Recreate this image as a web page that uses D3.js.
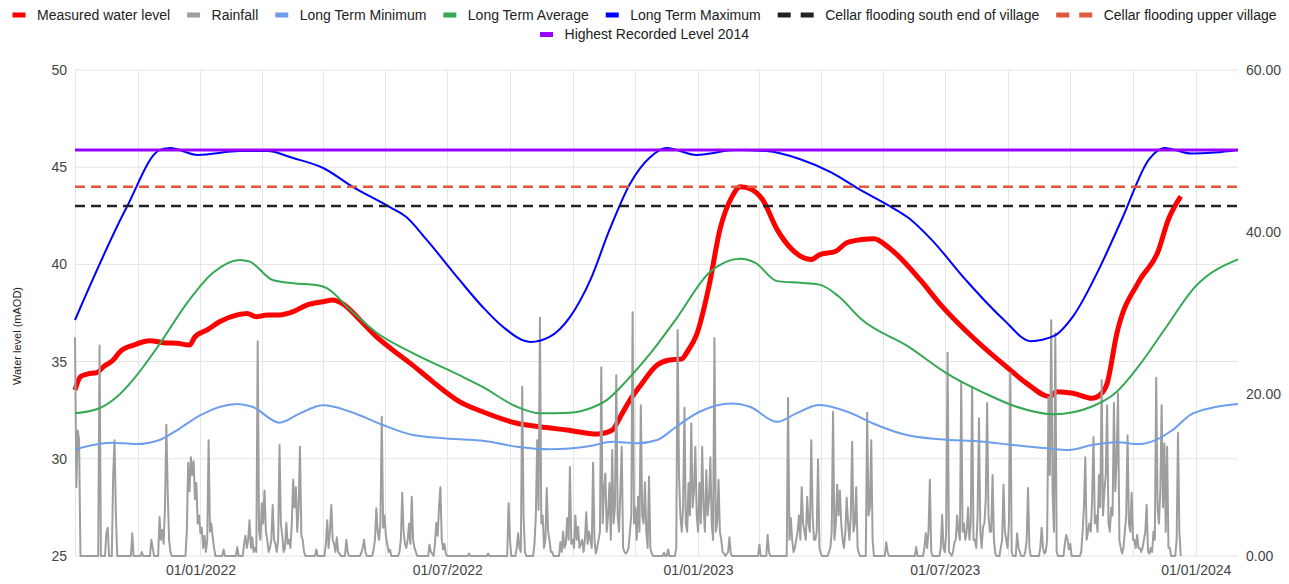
<!DOCTYPE html>
<html>
<head>
<meta charset="utf-8">
<script src="https://cdn.jsdelivr.net/npm/d3@7"></script>
<style>
    body { margin: 0; background: #ffffff; }
    svg { font-family: Arial, 'Liberation Sans', sans-serif; display: block; }
</style>
</head>
<body>
<div id="d3"></div>
<script>
// all series are [days since startDate, value]
const startDate = new Date(2021, 9, 1);
const endDate = new Date(2024, 1, 1);

const levelTicks = [25, 30, 35, 40, 45, 50];
const rainTicks = [0, 20, 40, 60];

const measuredLevel = [
    [0, 33.54], [4, 34.22], [9, 34.36], [16, 34.43], [21, 34.74], [28, 35.08], [33, 35.51], [43, 35.85],
    [55, 36.07], [65, 35.97], [75, 35.94], [84, 35.85], [88, 36.28], [97, 36.63], [106, 37.05], [119, 37.4],
    [126, 37.48], [133, 37.31], [141, 37.4], [150, 37.4], [160, 37.57], [170, 37.91], [182, 38.08], [189, 38.17],
    [197, 37.95], [209, 37.14], [221, 36.28], [233, 35.6], [246, 34.91], [258, 34.22], [270, 33.54], [282, 32.94],
    [299, 32.42], [324, 31.83], [341, 31.65], [361, 31.48], [383, 31.27], [394, 31.48], [400, 32.17], [407, 33.02],
    [414, 33.7], [427, 34.83], [436, 35.08], [445, 35.13], [449, 35.5], [456, 36.4], [465, 38.88], [473, 41.79],
    [482, 43.5], [488, 44.0], [496, 43.87], [504, 43.36], [515, 41.79], [526, 40.76], [540, 40.25], [546, 40.5],
    [558, 40.68], [566, 41.11], [577, 41.28], [586, 41.32], [597, 40.86], [620, 39.2], [634, 38.0], [658, 36.28],
    [683, 34.74], [698, 33.88], [715, 33.19], [720, 33.45], [732, 33.37], [746, 33.11], [752, 33.3], [757, 33.88],
    [764, 36.4], [781, 39.2], [794, 40.6], [802, 42.32], [811, 43.5]
];

const rainfall = [
    [0, 27], [1, 8.5], [2, 15.5], [3, 14.3], [4, 0], [17, 0], [18, 26], [19, 0], [22, 0], [23, 2.8], [24, 3.5], [25, 0],
    [27, 0], [28, 10], [29, 14.3], [30, 5], [31, 0], [41, 0], [42, 2.8], [43, 0], [48, 0], [49, 0.5], [50, 0],
    [55, 0], [56, 2], [57, 1], [58, 0], [61, 0], [62, 4.8], [63, 2], [64, 3.2], [65, 1.5], [66, 6], [67, 16.2],
    [68, 7.8], [69, 2], [70, 0.5], [71, 0], [81, 0], [82, 3], [83, 11.5], [84, 8], [85, 12.2], [86, 10], [87, 11.7],
    [88, 7], [89, 9], [90, 4], [91, 5], [92, 2.8], [93, 3.5], [94, 1], [95, 2.5], [96, 0.5], [97, 2], [98, 14.3],
    [99, 3], [100, 4], [101, 2.3], [102, 1], [103, 0], [108, 0], [109, 0.8], [110, 0], [118, 0], [119, 1.1], [120, 0],
    [123, 0], [124, 1.5], [125, 2.5], [126, 1], [127, 2], [128, 4.4], [129, 1], [130, 2.3], [131, 0.5], [132, 1],
    [133, 0.5], [134, 26.5], [135, 3], [136, 2], [137, 6.5], [138, 4], [139, 8.1], [140, 3], [141, 2], [142, 0.5],
    [143, 1], [144, 2], [145, 6.3], [146, 2], [147, 1.5], [148, 0.5], [149, 2], [150, 13.7], [151, 4], [152, 2.5],
    [153, 0.5], [154, 1], [155, 4.1], [156, 1.5], [157, 2], [158, 1], [159, 4], [160, 9.4], [161, 6], [162, 8.5],
    [163, 3], [164, 6], [165, 13.5], [166, 2.5], [167, 2], [168, 0.5], [169, 0], [176, 0], [177, 0.8], [178, 0],
    [183, 0], [184, 1.5], [185, 4.4], [186, 1], [187, 3], [188, 6.3], [189, 2], [190, 1.5], [191, 0.5], [192, 2.3],
    [193, 0.5], [194, 0.3], [195, 0], [198, 0], [199, 2], [200, 0.5], [201, 0], [209, 0], [210, 0.4], [211, 1],
    [212, 2], [213, 0.5], [214, 0], [218, 0], [219, 0.8], [220, 2], [221, 5.9], [222, 3], [223, 2], [224, 4],
    [225, 17.2], [226, 3.5], [227, 5], [228, 2.5], [229, 1.5], [230, 0.5], [231, 0.8], [232, 0], [237, 0], [238, 0.5],
    [239, 2], [240, 7.8], [241, 3], [242, 1.5], [243, 1], [244, 2], [245, 4], [246, 1.5], [247, 7.3], [248, 2],
    [249, 1], [250, 0.5], [251, 0], [259, 0], [260, 1.4], [261, 0.5], [262, 0.3], [263, 0], [264, 1.5], [265, 4.1],
    [266, 2.5], [267, 6], [268, 8.5], [269, 2], [270, 0.8], [271, 1.5], [272, 0.3], [273, 0], [288, 0], [289, 0.3],
    [290, 0], [302, 0], [303, 0.3], [304, 0], [317, 0], [318, 6.5], [319, 2], [320, 0], [323, 0], [324, 1], [325, 2.8],
    [326, 1], [327, 0.5], [328, 20.9], [329, 5], [330, 0.5], [331, 0], [336, 0], [337, 1.5], [338, 5], [339, 14.3],
    [340, 5.7], [341, 29.4], [342, 4], [343, 5], [344, 1], [345, 2], [346, 8.4], [347, 3], [348, 2], [349, 0.5],
    [350, 0.5], [351, 0], [355, 0], [356, 1.7], [357, 0.5], [358, 3], [359, 1], [360, 1.5], [361, 4.7], [362, 2],
    [363, 11], [364, 1.5], [365, 2], [366, 1], [367, 5], [368, 2], [369, 3.6], [370, 1], [371, 1.5], [372, 2],
    [373, 0.5], [374, 2], [375, 5.4], [376, 1.5], [377, 3], [378, 2], [379, 1], [380, 11.5], [381, 2], [382, 0.3],
    [383, 1], [384, 2], [385, 3], [386, 23.3], [387, 4], [388, 8], [389, 10.2], [390, 3], [391, 5], [392, 9], [393, 2],
    [394, 13.1], [395, 4], [396, 6], [397, 22.3], [398, 5], [399, 3], [400, 8], [401, 13.5], [402, 1], [403, 0.5],
    [404, 0.3], [405, 0.5], [406, 1], [407, 3], [408, 5], [409, 30.1], [410, 4], [411, 6], [412, 2], [413, 7.3],
    [414, 3], [415, 18.6], [416, 5], [417, 4], [418, 9.1], [419, 3], [420, 1], [421, 9.8], [422, 1], [423, 0.3],
    [424, 0], [431, 0], [432, 0.4], [433, 0], [434, 0], [435, 0.8], [436, 0], [440, 0], [441, 1], [442, 27.9],
    [443, 10], [444, 5], [445, 3], [446, 6], [447, 18.3], [448, 4], [449, 3], [450, 9], [451, 5], [452, 16.4],
    [453, 6], [454, 8], [455, 13.5], [456, 5], [457, 3], [458, 9], [459, 4], [460, 13.5], [461, 6], [462, 3],
    [463, 10.6], [464, 5], [465, 7], [466, 12.2], [467, 4], [468, 2], [469, 26.9], [470, 3], [471, 4], [472, 9.4],
    [473, 3], [474, 2], [475, 0.5], [476, 0.3], [477, 0], [479, 0.5], [480, 2.3], [481, 0.3], [482, 0], [501, 0],
    [502, 1.4], [503, 0], [507, 0], [508, 2.6], [509, 0.5], [510, 0], [522, 0], [523, 19.5], [524, 2], [525, 4.7],
    [526, 2], [527, 0.5], [528, 1], [529, 2], [530, 3], [531, 5], [532, 2], [533, 8.5], [534, 4], [535, 3], [536, 2],
    [537, 7.3], [538, 4], [539, 3], [540, 14.3], [541, 5], [542, 2], [543, 2], [544, 3], [545, 11.9], [546, 1],
    [547, 0.3], [548, 0], [552, 0], [553, 0.5], [554, 1], [555, 3], [556, 17.8], [557, 2], [558, 4], [559, 8.8],
    [560, 5], [561, 8.1], [562, 4], [563, 2], [564, 1], [565, 3], [566, 7.2], [567, 4], [568, 2], [569, 5], [570, 14.1],
    [571, 3], [572, 4], [573, 8.5], [574, 1], [575, 0.3], [576, 0], [580, 0], [581, 17.7], [582, 5], [583, 6],
    [584, 14.3], [585, 2], [586, 0], [594, 0], [595, 1.7], [596, 0.5], [597, 0], [616, 0], [617, 1.1], [618, 0],
    [622, 0], [623, 1], [624, 2.8], [625, 1], [626, 3], [627, 9.4], [628, 0.5], [629, 0], [634, 0], [635, 1],
    [636, 5.1], [637, 1], [638, 0.5], [639, 3], [640, 25.1], [641, 0.5], [642, 0.3], [643, 0], [644, 0.5], [645, 1.7],
    [646, 2], [647, 5], [648, 3], [649, 2], [650, 21.4], [651, 3], [652, 4], [653, 2], [654, 3], [655, 6], [656, 2],
    [657, 4], [658, 20.9], [659, 2], [660, 2], [661, 1], [662, 5], [663, 17], [664, 3], [665, 1], [666, 3.6], [667, 4],
    [668, 7], [669, 18.9], [670, 5], [671, 3], [672, 3], [673, 10], [674, 2], [675, 0.3], [676, 0], [678, 0], [679, 1],
    [680, 2], [681, 8.8], [682, 3], [683, 2], [684, 1], [685, 4], [686, 22.6], [687, 0.5], [688, 0], [690, 0],
    [691, 2.8], [692, 1], [693, 0.5], [694, 0], [696, 0], [697, 0.5], [698, 2], [699, 8.4], [700, 1], [701, 0],
    [707, 0], [708, 1], [709, 3.5], [710, 1], [711, 0.3], [712, 0.5], [713, 2], [714, 19.6], [715, 10], [716, 29.1],
    [717, 8], [718, 3], [719, 27.5], [720, 0.5], [721, 0], [725, 0], [726, 1.5], [727, 2.6], [728, 2], [729, 0.8],
    [730, 1.5], [731, 0], [737, 0], [738, 0.5], [739, 3], [740, 6], [741, 12.2], [742, 2], [743, 3], [744, 4], [745, 3],
    [746, 7], [747, 14.7], [748, 4], [749, 5], [750, 3], [751, 10], [752, 6], [753, 21.7], [754, 5], [755, 8], [756, 10],
    [757, 18.6], [758, 4], [759, 3], [760, 6], [761, 5], [762, 18.9], [763, 8], [764, 12], [765, 20.1], [766, 2],
    [767, 1], [768, 0.3], [769, 1], [770, 3], [771, 5], [772, 14.9], [773, 4], [774, 3], [775, 7.8], [776, 2], [777, 2],
    [778, 1], [779, 2.6], [780, 1], [781, 1], [782, 0.5], [783, 1], [784, 2], [785, 3], [786, 6.3], [787, 0.5],
    [788, 0.3], [789, 1], [790, 0.5], [791, 3], [792, 2], [793, 22], [794, 6], [795, 4], [796, 8], [797, 18.6], [798, 6],
    [799, 13.9], [800, 3], [801, 13.5], [802, 1], [803, 1], [804, 0], [807, 0], [808, 2], [809, 15.2], [810, 3], [811, 0]
];

const longTermMin = [
    [0, 30.49], [26, 30.83], [45, 30.76], [62, 30.97], [77, 31.57], [92, 32.25], [119, 32.82], [130, 32.68],
    [150, 31.86], [165, 32.34], [182, 32.75], [202, 32.42], [224, 31.79], [248, 31.22], [282, 31.0], [299, 30.93],
    [324, 30.62], [348, 30.49], [378, 30.66], [394, 30.88], [412, 30.8], [427, 30.97], [441, 31.65], [458, 32.42],
    [482, 32.85], [495, 32.68], [515, 31.9], [529, 32.34], [546, 32.77], [568, 32.38], [585, 31.83], [610, 31.22],
    [634, 31.0], [666, 30.88], [688, 30.71], [713, 30.54], [729, 30.45], [746, 30.71], [764, 30.85], [781, 30.76],
    [793, 30.97], [805, 31.48], [820, 32.34], [853, 32.82]
];

const longTermAvg = [
    [0, 32.34], [18, 32.6], [31, 33.2], [43, 34.1], [62, 35.9], [82, 38.0], [101, 39.56], [121, 40.23],
    [128, 40.15], [145, 39.2], [160, 39.03], [177, 38.94], [185, 38.77], [202, 37.65], [221, 36.5], [246, 35.5],
    [282, 34.3], [299, 33.7], [324, 32.68], [341, 32.34], [363, 32.37], [378, 32.6], [390, 33.02], [405, 34.05],
    [422, 35.42], [441, 37.2], [465, 39.56], [488, 40.29], [499, 40.08], [515, 39.14], [532, 39.05], [546, 38.96],
    [560, 38.36], [577, 37.16], [611, 35.78], [639, 34.41], [667, 33.38], [690, 32.69], [718, 32.29], [746, 32.69],
    [763, 33.38], [780, 34.75], [799, 36.64], [822, 38.88], [853, 40.26]
];

const longTermMax = [
    [0, 37.14], [38, 42.95], [62, 45.88], [70, 45.99], [90, 45.63], [121, 45.83], [141, 45.83], [160, 45.47],
    [182, 44.96], [204, 43.98], [231, 42.95], [243, 42.44], [258, 41.26], [282, 39.2], [299, 37.81], [314, 36.78],
    [334, 36.01], [348, 36.27], [363, 37.29], [378, 39.2], [392, 41.77], [407, 44.14], [422, 45.53], [434, 45.99],
    [456, 45.63], [485, 45.88], [507, 45.83], [532, 45.41], [555, 44.72], [575, 43.87], [597, 43.02], [611, 42.41],
    [628, 41.29], [653, 39.23], [681, 37.17], [701, 36.05], [718, 36.32], [732, 37.33], [752, 39.9], [768, 42.35],
    [788, 45.43], [799, 45.99], [819, 45.7], [836, 45.75], [853, 45.88]
];

const cellarSouth = 43.0;
const cellarUpper = 44.0;
const highest2014 = 45.88;

const series = [
    {name: 'Measured water level', color: '#ff0000', width: 5},
    {name: 'Rainfall', color: '#9e9e9e', width: 2},
    {name: 'Long Term Minimum', color: '#6d9eeb', width: 2},
    {name: 'Long Term Average', color: '#34a853', width: 2},
    {name: 'Long Term Maximum', color: '#0000ff', width: 2},
    {name: 'Cellar flooding south end of village', color: '#222222', width: 2.5, dashed: true},
    {name: 'Cellar flooding upper village', color: '#de5a3e', width: 2.5, dashed: true},
    {name: 'Highest Recorded Level 2014', color: '#9900ff', width: 3}
];

window.onload = function () {
    let margin = {top: 70, left: 75, bottom: 28, right: 51, chartWidth: 1289, chartHeight: 584};
    let svg = d3.select('#d3').append('svg').attr('width', margin.chartWidth).attr('height', margin.chartHeight);

    let xscale = d3.scaleTime().domain([startDate, endDate]).range([margin.left, margin.chartWidth - margin.right]);
    let yLevel = d3.scaleLinear().domain([25, 50]).range([margin.chartHeight - margin.bottom, margin.top]);
    let yRain = d3.scaleLinear().domain([0, 60]).range([margin.chartHeight - margin.bottom, margin.top]);
    let dayDate = (d) => d3.timeDay.offset(startDate, d);

    // gridlines: quarters plus a line half way between them
    let quarters = d3.timeMonth.every(3).range(startDate, d3.timeDay.offset(endDate, 1));
    let vlines = quarters.slice();
    for (let i = 0; i < quarters.length - 1; i++) {
        vlines.push(new Date((quarters[i].getTime() + quarters[i + 1].getTime()) / 2));
    }
    let grid = svg.append('g').attr('class', 'grid');
    grid.selectAll('.h').data(levelTicks).enter().append('line')
        .attr('x1', xscale.range()[0]).attr('x2', xscale.range()[1])
        .attr('y1', (d) => yLevel(d)).attr('y2', (d) => yLevel(d))
        .attr('stroke', '#e3e3e3').attr('stroke-width', 1);
    grid.selectAll('.v').data(vlines).enter().append('line')
        .attr('x1', (d) => Math.round(xscale(d)) + 0.5).attr('x2', (d) => Math.round(xscale(d)) + 0.5)
        .attr('y1', yLevel(50)).attr('y2', yLevel(25))
        .attr('stroke', '#e6e6e6').attr('stroke-width', 1);

    // axes
    let xAxis = d3.axisBottom(xscale).tickValues(d3.timeMonth.every(6).range(startDate, endDate))
        .tickFormat(d3.timeFormat('%d/%m/%Y')).tickSize(0).tickPadding(9);
    let yAxis = d3.axisLeft(yLevel).tickValues(levelTicks).tickSize(0).tickPadding(8);
    let y2Axis = d3.axisRight(yRain).tickValues(rainTicks).tickFormat(d3.format('.2f')).tickSize(0).tickPadding(8);

    svg.append('g').attr('class', 'xAxis').attr('transform', `translate(0, ${yLevel(25)})`).call(xAxis);
    svg.append('g').attr('class', 'yAxis').attr('transform', `translate(${xscale.range()[0]}, 0)`).call(yAxis);
    svg.append('g').attr('class', 'y2Axis').attr('transform', `translate(${xscale.range()[1]}, 0)`).call(y2Axis);
    svg.selectAll('.xAxis, .yAxis, .y2Axis').select('.domain').remove();
    svg.selectAll('.xAxis text, .yAxis text, .y2Axis text')
        .attr('font-size', 14).attr('fill', '#444').attr('font-family', "Arial, 'Liberation Sans', sans-serif");

    svg.append('text').attr('transform', 'rotate(-90)')
        .attr('x', -336).attr('y', 17).attr('dy', '0.35em')
        .attr('text-anchor', 'middle').attr('font-size', 11).attr('fill', '#222')
        .text('Water level (mAOD)');

    // lines
    let levelLine = d3.line().x((d) => xscale(dayDate(d[0]))).y((d) => yLevel(d[1]));
    let smoothLine = d3.line().x((d) => xscale(dayDate(d[0]))).y((d) => yLevel(d[1])).curve(d3.curveMonotoneX);
    let rainLine = d3.line().x((d) => xscale(dayDate(d[0]))).y((d) => yRain(d[1]));
    let flat = (v) => [[0, v], [d3.timeDay.count(startDate, endDate), v]];

    let plots = [
        [measuredLevel, smoothLine],
        [rainfall, rainLine],
        [longTermMin, smoothLine],
        [longTermAvg, smoothLine],
        [longTermMax, smoothLine],
        [flat(cellarSouth), levelLine],
        [flat(cellarUpper), levelLine],
        [flat(highest2014), levelLine]
    ];
    plots.forEach((p, i) => {
        let s = series[i];
        svg.append('path').datum(p[0])
            .attr('d', p[1])
            .attr('fill', 'none')
            .attr('stroke', s.color)
            .attr('stroke-width', s.width)
            .attr('stroke-linejoin', 'round')
            .attr('stroke-dasharray', s.dashed ? '10,6' : null);
    });

    // legend, two centred rows
    function legendRow(items, cy) {
        let row = svg.append('g');
        let x = 0;
        items.forEach((s) => {
            let g = row.append('g').attr('transform', `translate(${x}, 0)`);
            let sw = s.dashed ? 36 : 13;
            g.append('rect').attr('x', 0).attr('y', cy - 2.5).attr('width', 13).attr('height', 5).attr('fill', s.color);
            if (s.dashed) {
                g.append('rect').attr('x', 23).attr('y', cy - 2.5).attr('width', 13).attr('height', 5).attr('fill', s.color);
            }
            let t = g.append('text').attr('x', sw + 11.5).attr('y', cy).attr('dy', '0.35em')
                .attr('font-size', 14).attr('fill', '#222').text(s.name);
            x += sw + 11.5 + t.node().getComputedTextLength() + 17;
        });
        let total = x - 17;
        row.attr('transform', `translate(${margin.chartWidth / 2 - total / 2}, 0)`);
    }
    legendRow(series.slice(0, 7), 15);
    legendRow(series.slice(7), 34.5);
};
</script>
</body>
</html>
